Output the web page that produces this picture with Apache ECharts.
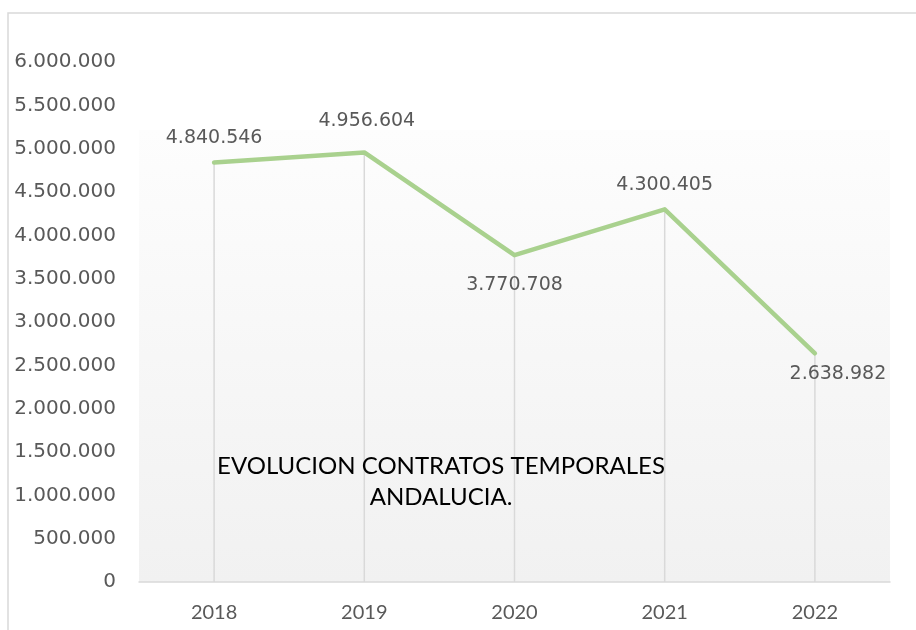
<!DOCTYPE html>
<html>
<head>
<meta charset="utf-8">
<script src="https://cdn.jsdelivr.net/npm/echarts@6/dist/echarts.min.js"></script>
<style>
  html, body { margin: 0; padding: 0; background: #ffffff; }
  #chart { width: 916px; height: 630px; }
</style>
</head>
<body>
<div id="chart"></div>
<script>
// Temporary contracts in Andalucía, by year
const years = ['2018', '2019', '2020', '2021', '2022'];
const contracts = [4840546, 4956604, 3770708, 4300405, 2638982];
const yTicks = [0, 500000, 1000000, 1500000, 2000000, 2500000, 3000000, 3500000, 4000000, 4500000, 5000000, 5500000, 6000000];

const fmt = v => String(v).replace(/\B(?=(\d{3})+(?!\d))/g, '.');

// where each value label sits relative to its point
// (left padding nudges a centred label to the right)
const labelPlacement = [
  { position: 'top', distance: 14, padding: [0, 0, 0, 0] },
  { position: 'top', distance: 21, padding: [0, 0, 0, 5] },
  { position: 'bottom', distance: 20, padding: [0, 0, 0, 0] },
  { position: 'top', distance: 14, padding: [0, 0, 0, 0] },
  { position: 'bottom', distance: 11, padding: [0, 0, 0, 46] }
];

const lineData = contracts.map((v, i) => ({
  value: v,
  label: labelPlacement[i]
}));

const chart = echarts.init(document.getElementById('chart'), null, { renderer: 'canvas' });

chart.setOption({
  animation: false,
  backgroundColor: '#ffffff',
  graphic: [
    {
      type: 'rect',
      z: -10,
      shape: { x: 8, y: 13, width: 1000, height: 1000 },
      style: { fill: '#ffffff', stroke: '#d9d9d9', lineWidth: 1.5 }
    },
    {
      type: 'rect',
      z: -9,
      shape: { x: 139, y: 130, width: 751, height: 452 },
      style: {
        fill: new echarts.graphic.LinearGradient(0, 0, 0, 1, [
          { offset: 0, color: '#fdfdfd' },
          { offset: 1, color: '#f1f1f1' }
        ])
      }
    },
    {
      type: 'text',
      z: 100,
      style: {
        x: 441,
        y: 482,
        text: 'EVOLUCION CONTRATOS TEMPORALES\nANDALUCIA.',
        fill: '#000000',
        font: '24px Lato',
        lineHeight: 31,
        align: 'center',
        verticalAlign: 'middle'
      }
    }
  ],
  grid: { left: 139, right: 26, top: 62, bottom: 48, containLabel: false },
  xAxis: {
    type: 'category',
    data: years,
    boundaryGap: true,
    axisLine: { show: true, lineStyle: { color: '#d9d9d9', width: 1.5 } },
    axisTick: { show: false },
    axisLabel: { color: '#595959', fontFamily: 'Lato', fontSize: 20, margin: 21 },
    splitLine: { show: false }
  },
  yAxis: {
    type: 'value',
    min: yTicks[0],
    max: yTicks[yTicks.length - 1],
    interval: yTicks[1] - yTicks[0],
    axisLine: { show: false },
    axisTick: { show: false },
    splitLine: { show: false },
    axisLabel: {
      color: '#595959',
      fontFamily: 'DejaVu Sans',
      fontSize: 20,
      margin: 23,
      formatter: v => fmt(v)
    }
  },
  series: [
    {
      // drop lines from each point to the axis
      type: 'bar',
      data: contracts,
      barWidth: 1.5,
      itemStyle: { color: '#d9d9d9' },
      silent: true,
      z: 1
    },
    {
      type: 'line',
      data: lineData,
      showSymbol: true,
      symbol: 'circle',
      symbolSize: 1,
      itemStyle: { color: 'rgba(0,0,0,0)', borderWidth: 0 },
      lineStyle: { color: '#a9d18e', width: 4.5, cap: 'round', join: 'round' },
      z: 5,
      label: {
        show: true,
        color: '#595959',
        fontFamily: 'DejaVu Sans',
        fontSize: 19,
        formatter: p => fmt(p.value)
      },
      labelLayout: { hideOverlap: false }
    }
  ]
});
</script>
</body>
</html>
